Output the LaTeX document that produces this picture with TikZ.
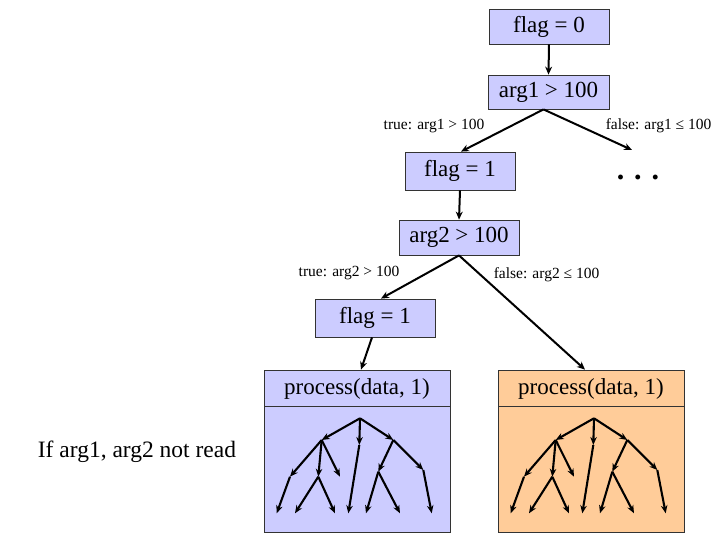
\documentclass[tikz,border=0pt]{standalone}
\usepackage{fontspec}
\setmainfont{Liberation Serif}
\usetikzlibrary{arrows.meta}
\definecolor{lav}{RGB}{204,204,255}
\definecolor{org}{RGB}{255,204,153}
\begin{document}
\begin{tikzpicture}[x=1pt,y=-1pt,
  box/.style={draw=black!80,line width=0.8pt,fill=lav,inner sep=0pt,font=\fontsize{23}{24}\selectfont},
  lbl/.style={inner sep=0pt,font=\fontsize{15.5}{17}\selectfont},
  conn/.style={line width=2pt,-{Stealth[length=8pt,width=7pt]}},
  tedge/.style={line width=2.1pt,-{Stealth[length=8pt,width=6.5pt]}},
  tree/.pic={
    \coordinate (-r) at (0,0);
    \coordinate (-A) at (-38.3,21.7);
    \coordinate (-B) at (-0.7,26.7);
    \coordinate (-C) at (33.3,21.7);
    \coordinate (-A1) at (-70,58.4);
    \coordinate (-A2) at (-41.7,58.4);
    \coordinate (-A3) at (-20,58.4);
    \coordinate (-A1a) at (-83.3,95);
    \coordinate (-A2a) at (-65,95);
    \coordinate (-A2b) at (-25,95);
    \coordinate (-B1) at (-11.7,95);
    \coordinate (-C1) at (18.3,53.4);
    \coordinate (-C2) at (63.3,51.7);
    \coordinate (-C1a) at (6,95);
    \coordinate (-C1b) at (40,95);
    \coordinate (-C2a) at (71.7,95);
    \draw[tedge] (-r) -- (-A);
    \draw[tedge] (-r) -- (-B);
    \draw[tedge] (-r) -- (-C);
    \draw[tedge] (-A) -- (-A1);
    \draw[tedge] (-A) -- (-A2);
    \draw[tedge] (-A) -- (-A3);
    \draw[tedge] (-A1) -- (-A1a);
    \draw[tedge] (-A2) -- (-A2a);
    \draw[tedge] (-A2) -- (-A2b);
    \draw[tedge] (-B) -- (-B1);
    \draw[tedge] (-C) -- (-C1);
    \draw[tedge] (-C) -- (-C2);
    \draw[tedge] (-C1) -- (-C1a);
    \draw[tedge] (-C1) -- (-C1b);
    \draw[tedge] (-C2) -- (-C2a);
  }]
\useasboundingbox (0,0) rectangle (720,540);

\node[box,minimum width=120pt,minimum height=35pt] (f0) at (549,26.5) {flag = 0};
\node[box,minimum width=121pt,minimum height=34pt] (a1) at (548.5,92) {arg1 > 100};
\node[box,minimum width=110pt,minimum height=38pt] (f1a) at (460,171) {flag = 1};
\node[inner sep=0pt,font=\fontsize{30}{32}\selectfont\bfseries] (dots) at (638,177) {. . .};
\coordinate (dtop) at (632,150);
\node[box,minimum width=120pt,minimum height=35pt] (a2) at (459,237.5) {arg2 > 100};
\node[box,minimum width=120pt,minimum height=38pt] (f1b) at (375,318) {flag = 1};

\node[box,minimum width=186pt,minimum height=162pt] (pL) at (357,451) {};
\node[box,fill=org,minimum width=186pt,minimum height=162pt] (pR) at (591,451) {};
\node[inner sep=0pt,font=\fontsize{23}{24}\selectfont] (tL) at (357,389) {process(data, 1)};
\node[inner sep=0pt,font=\fontsize{23}{24}\selectfont] (tR) at (591,389) {process(data, 1)};
\draw[black!80,line width=0.8pt] (264,406) -- (450,406);
\draw[black!80,line width=0.8pt] (498,406) -- (684,406);

\node[lbl] (l1) at (434,126) {true: arg1 > 100};
\node[lbl] (l2) at (658.5,126) {false: arg1 ≤ 100};
\node[lbl] (l3) at (349,273) {true: arg2 > 100};
\node[lbl] (l4) at (546.5,275) {false: arg2 ≤ 100};
\node[inner sep=0pt,font=\fontsize{23.5}{25}\selectfont] (note) at (137,452) {If arg1, arg2 not read};

\draw[conn] (f0.south) -- (a1.north);
\draw[conn] ([xshift=-5pt]a1.south) -- ([xshift=1pt]f1a.north);
\draw[conn] ([xshift=-5pt]a1.south) -- (dtop);
\draw[conn] (f1a.south) -- ([xshift=-1pt]f1a.south |- a2.north);
\draw[conn] (a2.south) -- ([xshift=6pt]f1b.north);
\draw[conn] (a2.south) -- ([xshift=-6pt]pR.north);
\draw[conn] ([xshift=-3pt]f1b.south) -- ([xshift=4pt]pL.north);

\pic (tl) at (360,418.3) {tree};
\pic (tr) at (594,418.3) {tree};
\end{tikzpicture}
\end{document}
